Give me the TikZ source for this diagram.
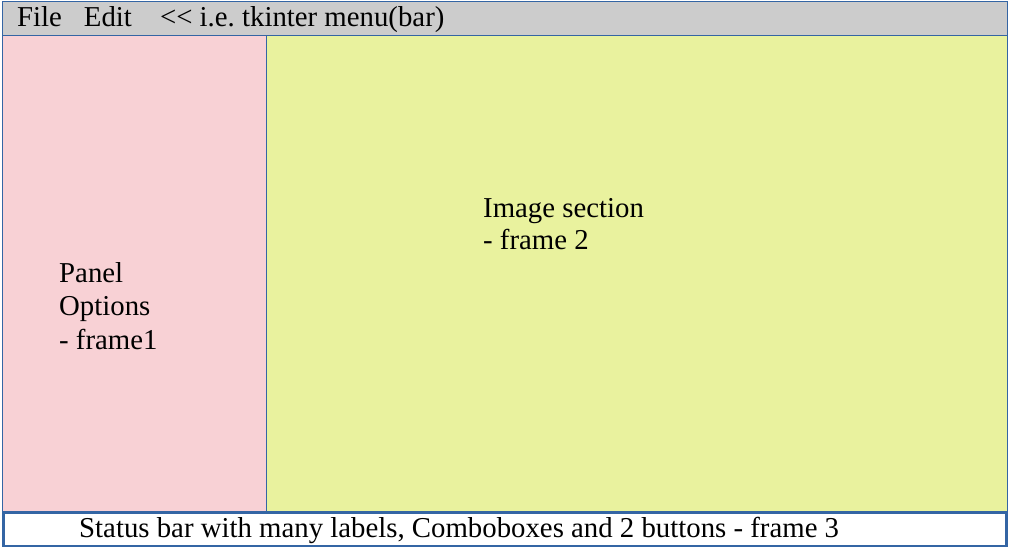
\documentclass[tikz,border=0pt]{standalone}
\usepackage{fontspec}
\setmainfont{Liberation Serif}
\frenchspacing
\definecolor{menugray}{RGB}{204,204,204}
\definecolor{panelpink}{RGB}{248,209,213}
\definecolor{imgyellow}{RGB}{233,242,158}
\definecolor{edgeblue}{RGB}{52,101,164}
\begin{document}
\begin{tikzpicture}[x=1pt,y=-1pt,
  frame/.style={draw=edgeblue,line width=0.8pt},
  label/.style={inner sep=0pt,anchor=base west,font=\fontsize{28.8}{33}\selectfont\frenchspacing,align=left}]
\useasboundingbox (0,0) rectangle (1010,548);
\path[fill=white] (0,0) rectangle (1010,548);
\draw[frame,fill=menugray] (2,1.5) rectangle (1007.5,35) coordinate (menuSE);
\draw[frame,fill=panelpink] (2,35) rectangle (266,511.5);
\draw[frame,fill=imgyellow] (266,35) rectangle (1007.5,511.5);
\draw[draw=edgeblue,line width=2.2pt,fill=white] (3.5,513) rectangle (1006.5,546);
\node[label] (menu) at (17,27) {File\hspace{22pt}Edit\hspace{28pt}<{}< i.e. tkinter menu(bar)};
\node[label] (panel) at (59,283) {Panel};
\node[label] (options) at (59,316) {Options};
\node[label] (frame1) at (59,349) {- frame1};
\node[label] (image) at (483,218) {Image section};
\node[label] (frame2) at (483,250) {- frame 2};
\node[label] (status) at (79,537) {Status bar with many labels, Comboboxes and 2 buttons - frame 3};
\end{tikzpicture}
\end{document}
